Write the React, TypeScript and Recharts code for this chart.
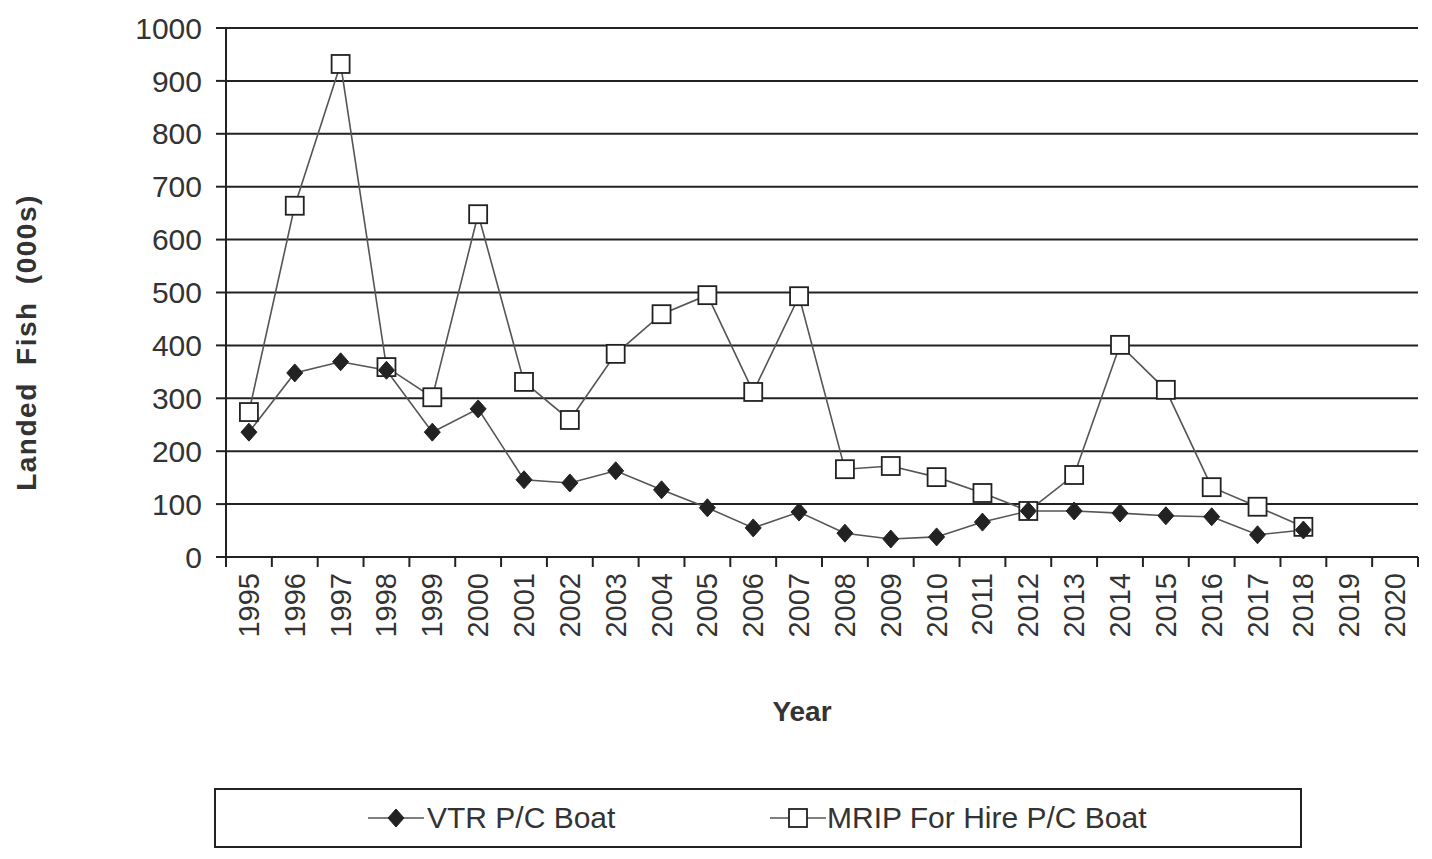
import { LineChart, Line, XAxis, YAxis, CartesianGrid } from 'recharts'

const years = [
  '1995', '1996', '1997', '1998', '1999', '2000', '2001', '2002', '2003',
  '2004', '2005', '2006', '2007', '2008', '2009', '2010', '2011', '2012',
  '2013', '2014', '2015', '2016', '2017', '2018', '2019', '2020',
]
const vtrBoat = [
  236, 348, 369, 353, 236, 280, 146, 140, 163, 127, 93, 55, 85, 45, 34, 38,
  66, 87, 87, 83, 78, 76, 42, 51, null, null,
]
const mripBoat = [
  274, 664, 932, 359, 302, 648, 331, 259, 384, 459, 495, 312, 493, 166, 172,
  151, 121, 87, 155, 401, 316, 132, 95, 57, null, null,
]
const yTicks = [0, 100, 200, 300, 400, 500, 600, 700, 800, 900, 1000]

const data = years.map((year, i) => ({ year, vtr: vtrBoat[i], mrip: mripBoat[i] }))

const W = 1432
const H = 859
const LEFT = 226
const RIGHT = 14
const INK = '#222'
const FONT = '"Liberation Sans", Arial, sans-serif'
const band = (W - LEFT - RIGHT) / years.length

function Diamond({ cx, cy }: any) {
  if (cx == null || cy == null) return <g />
  return (
    <polygon
      points={`${cx},${cy - 9} ${cx + 8},${cy} ${cx},${cy + 9} ${cx - 8},${cy}`}
      fill={INK}
      stroke={INK}
      strokeWidth={1}
    />
  )
}

function Square({ cx, cy }: any) {
  if (cx == null || cy == null) return <g />
  return <rect x={cx - 9} y={cy - 9} width={18} height={18} fill="#fff" stroke={INK} strokeWidth={1.8} />
}

// Excel style: tick marks sit between categories, labels read bottom-to-top
function YearTick({ x, y, payload, index }: any) {
  const last = index === years.length - 1
  return (
    <g>
      <line x1={x - band / 2} y1={y} x2={x - band / 2} y2={y + 10} stroke={INK} strokeWidth={2} />
      {last && <line x1={x + band / 2} y1={y} x2={x + band / 2} y2={y + 10} stroke={INK} strokeWidth={2} />}
      <text
        x={x}
        y={y + 16}
        transform={`rotate(-90 ${x} ${y + 16})`}
        textAnchor="end"
        dominantBaseline="central"
        fontSize={29}
        fill="#333"
        fontFamily={FONT}
      >
        {payload.value}
      </text>
    </g>
  )
}

function YLabel({ viewBox }: any) {
  const x = viewBox.x + 26
  const y = viewBox.y + viewBox.height / 2 + 50
  return (
    <text
      x={x}
      y={y}
      transform={`rotate(-90 ${x} ${y})`}
      textAnchor="middle"
      dominantBaseline="central"
      fontSize={28}
      fontWeight={700}
      fill="#333"
      fontFamily={FONT}
      style={{ wordSpacing: 8, letterSpacing: 1.5 }}
    >
      Landed Fish (000s)
    </text>
  )
}

function LegendBox() {
  const text = { fontSize: 30, fontFamily: FONT, color: '#333' }
  return (
    <div
      style={{
        position: 'absolute',
        left: 214,
        top: 788,
        width: 1088,
        height: 60,
        border: `2px solid ${INK}`,
        boxSizing: 'border-box',
        display: 'flex',
        alignItems: 'center',
        background: '#fff',
      }}
    >
      <svg width={60} height={30} style={{ position: 'absolute', left: 150 }}>
        <line x1={2} y1={15} x2={58} y2={15} stroke="#555" strokeWidth={1.5} />
        <Diamond cx={30} cy={15} />
      </svg>
      <span style={{ ...text, position: 'absolute', left: 211 }}>VTR P/C Boat</span>
      <svg width={60} height={30} style={{ position: 'absolute', left: 552 }}>
        <line x1={2} y1={15} x2={58} y2={15} stroke="#555" strokeWidth={1.5} />
        <Square cx={30} cy={15} />
      </svg>
      <span style={{ ...text, position: 'absolute', left: 611 }}>MRIP For Hire P/C Boat</span>
    </div>
  )
}

export default function App() {
  return (
    <div style={{ position: 'absolute', left: 0, top: 0, width: W, height: H, background: '#fff' }}>
      <LineChart width={W} height={H} data={data} margin={{ top: 28, right: RIGHT, left: 0, bottom: 0 }}>
        <CartesianGrid vertical={false} stroke={INK} strokeWidth={2} />
        <XAxis
          dataKey="year"
          scale="band"
          height={302}
          interval={0}
          tickSize={0}
          tickMargin={0}
          tickLine={false}
          tick={<YearTick />}
          axisLine={{ stroke: INK, strokeWidth: 2 }}
          label={{
            value: 'Year',
            position: 'insideBottom',
            offset: 138,
            dx: -20,
            style: { fontSize: 28, fontWeight: 700, fill: '#333', fontFamily: FONT },
          }}
        />
        <YAxis
          width={LEFT}
          domain={[0, 1000]}
          ticks={yTicks}
          interval={0}
          tickSize={10}
          tickMargin={14}
          tickLine={{ stroke: INK, strokeWidth: 2 }}
          axisLine={{ stroke: INK, strokeWidth: 2 }}
          tick={{ fontSize: 30, fill: '#333', fontFamily: FONT }}
          label={<YLabel />}
        />
        <YAxis
          yAxisId="border"
          orientation="right"
          width={0}
          domain={[0, 1000]}
          tick={false}
          tickLine={false}
          axisLine={{ stroke: INK, strokeWidth: 2 }}
        />
        <Line
          dataKey="mrip"
          name="MRIP For Hire P/C Boat"
          stroke="#555"
          strokeWidth={1.6}
          dot={(p: any) => <Square key={`m${p.index}`} cx={p.cx} cy={p.cy} />}
          isAnimationActive={false}
        />
        <Line
          dataKey="vtr"
          name="VTR P/C Boat"
          stroke="#555"
          strokeWidth={1.6}
          dot={(p: any) => <Diamond key={`v${p.index}`} cx={p.cx} cy={p.cy} />}
          isAnimationActive={false}
        />
      </LineChart>
      <LegendBox />
    </div>
  )
}
